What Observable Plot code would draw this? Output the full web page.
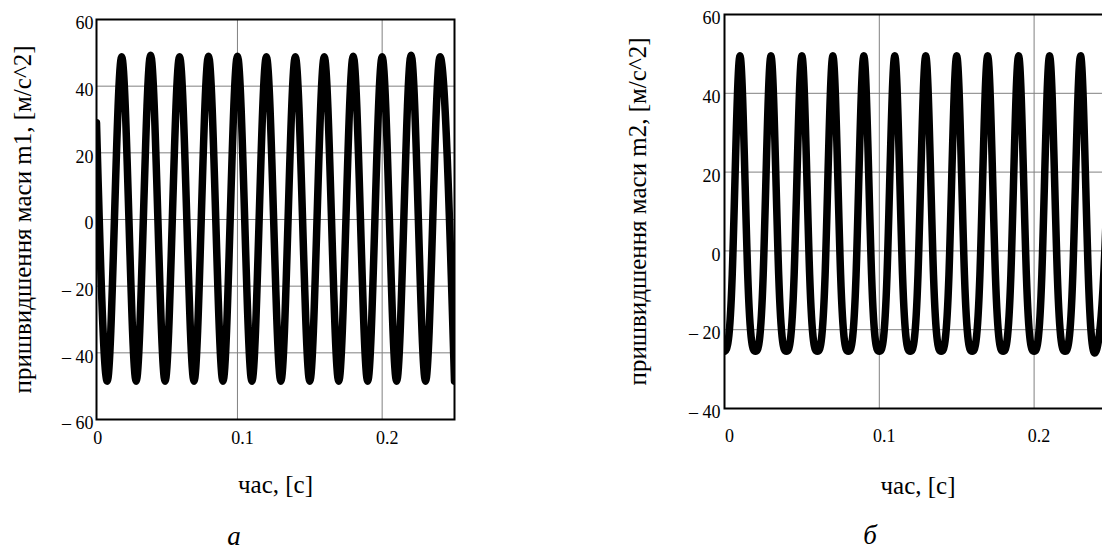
<!DOCTYPE html>
<html>
<head>
<meta charset="utf-8">
<script src="https://cdn.jsdelivr.net/npm/d3@7"></script>
<script src="https://cdn.jsdelivr.net/npm/@observablehq/plot@0.6"></script>
<style>
  html, body { margin: 0; padding: 0; background: #fff; }
  #wrap { position: relative; width: 1102px; height: 551px; overflow: hidden; background: #fff; }
  .panel { position: absolute; top: 0; }
</style>
</head>
<body>
<div id="wrap">
  <div class="panel" id="pa" style="left:0px;width:470px;height:551px"></div>
  <div class="panel" id="pb" style="left:620px;width:505px;height:551px"></div>
</div>
<script>
// ---------- data ----------
// panel а : m1 acceleration, extrema of the oscillation
const timeA = [0.0026, 0.01, 0.02, 0.03, 0.04, 0.05, 0.06, 0.07, 0.08, 0.09, 0.10, 0.11, 0.12,
               0.13, 0.14, 0.15, 0.16, 0.17, 0.18, 0.19, 0.20, 0.21, 0.22, 0.23, 0.24, 0.25];
const accA  = [29, -48.5, 48.8, -48.5, 49.3, -48.5, 48.8, -48.5, 49, -48.5, 49, -48.5, 48.8,
               -48.5, 48.8, -48.5, 48.8, -48.5, 49, -48.5, 48.8, -48.5, 49.3, -48.5, 48.8, -48.5];

// panel б : m2 acceleration, samples every quarter period
const timeB = [0, 0.005, 0.01, 0.015, 0.02, 0.025, 0.03, 0.035, 0.04, 0.045, 0.05, 0.055, 0.06,
               0.065, 0.07, 0.075, 0.08, 0.085, 0.09, 0.095, 0.10, 0.105, 0.11, 0.115, 0.12, 0.125,
               0.13, 0.135, 0.14, 0.145, 0.15, 0.155, 0.16, 0.165, 0.17, 0.175, 0.18, 0.185, 0.19,
               0.195, 0.20, 0.205, 0.21, 0.215, 0.22, 0.225, 0.23, 0.235, 0.24, 0.245, 0.25];
const accB  = [-25.5, -6, 49.5, -6, -25.5, -6, 49.5, -6, -25.5, -6, 49.5, -6, -25.5,
               -6, 49.5, -6, -25.5, -6, 49.5, -6, -25.5, -6, 49.5, -6, -25.5, -6,
               49.5, -6, -25.5, -6, 49.5, -6, -25.5, -6, 49.5, -6, -25.5, -6, 49.5,
               -6, -25.5, -6, 49.5, -6, -25.5, -6, 49.5, -6, -25.5, -6, 49.5];

// axes / labels
const xTicks = [0, 0.1, 0.2];
const xGrid = [0.1, 0.2];
const yTicksA = [-60, -40, -20, 0, 20, 40, 60];
const yGridA = [-40, -20, 0, 20, 40];
const yTicksB = [-40, -20, 0, 20, 40, 60];
const yGridB = [-20, 0, 20, 40];
const xTitle = "час, [с]";
const yTitleA = "пришвидшення маси m1, [м/с^2]";
const yTitleB = "пришвидшення маси m2, [м/с^2]";
const captionA = "а";
const captionB = "б";

// ---------- drawing ----------
const FONT = "'Liberation Serif', 'Times New Roman', serif";
const fmtY = d => d < 0 ? "\u2013 " + Math.abs(d) : String(d);
const fmtX = d => d === 0 ? "0" : String(d);
const gridStyle = {stroke: "#808080", strokeOpacity: 1, strokeWidth: 1};
const mid = {textAnchor: "middle", lineAnchor: "middle"};

function panel(o) {
  return Plot.plot({
    width: o.width, height: 551,
    marginLeft: o.ml, marginRight: o.mr, marginTop: o.mt, marginBottom: o.mb,
    style: {fontFamily: FONT, fontSize: "18px", color: "black", background: "transparent", overflow: "visible", maxWidth: "none"},
    x: {domain: o.xDomain},
    y: {domain: o.yDomain},
    marks: [
      Plot.gridX(xGrid, gridStyle),
      Plot.gridY(o.yGrid, gridStyle),
      Plot.line(o.acc, {x: o.time, y: o.acc, curve: o.curve, stroke: "black", strokeWidth: 7.5, strokeLinejoin: "round", clip: true}),
      Plot.frame({stroke: "black", strokeWidth: 2}),
      Plot.axisX(xTicks, {tickSize: 0, tickPadding: o.xPad, dx: 5, tickFormat: fmtX, label: null}),
      Plot.axisY(o.yTicks, {tickSize: 0, tickPadding: o.yPad, dy: 4, tickFormat: fmtY, label: null}),
      Plot.text([xTitle], {text: d => d, frameAnchor: "bottom", dy: o.xTitleDy, fontSize: 25, ...mid}),
      Plot.text([o.yTitle], {text: d => d, frameAnchor: "left", dx: o.yTitleDx, rotate: -90, fontSize: 25, ...mid}),
      Plot.text([o.caption], {text: d => d, frameAnchor: "bottom", dx: o.capDx, dy: o.capDy, fontSize: 27, fontStyle: "italic", ...mid})
    ]
  });
}

document.getElementById("pa").append(panel({
  width: 470, ml: 96, mr: 16, mt: 19, mb: 132,
  xDomain: [0.0026, 0.25], yDomain: [-60, 60],
  time: timeA, acc: accA, curve: "monotone-x", yGrid: yGridA, yTicks: yTicksA,
  xPad: 12, yPad: 3, xTitleDy: 65, yTitle: yTitleA, yTitleDx: -74,
  caption: captionA, capDx: -41.5, capDy: 117
}));

document.getElementById("pb").append(panel({
  width: 505, ml: 104, mr: 14, mt: 14, mb: 143,
  xDomain: [0, 0.25], yDomain: [-40, 60],
  time: timeB, acc: accB, curve: "natural", yGrid: yGridB, yTicks: yTicksB,
  xPad: 21, yPad: 4, xTitleDy: 77, yTitle: yTitleB, yTitleDx: -87,
  caption: captionB, capDx: -48, capDy: 127
}));
</script>
</body>
</html>
